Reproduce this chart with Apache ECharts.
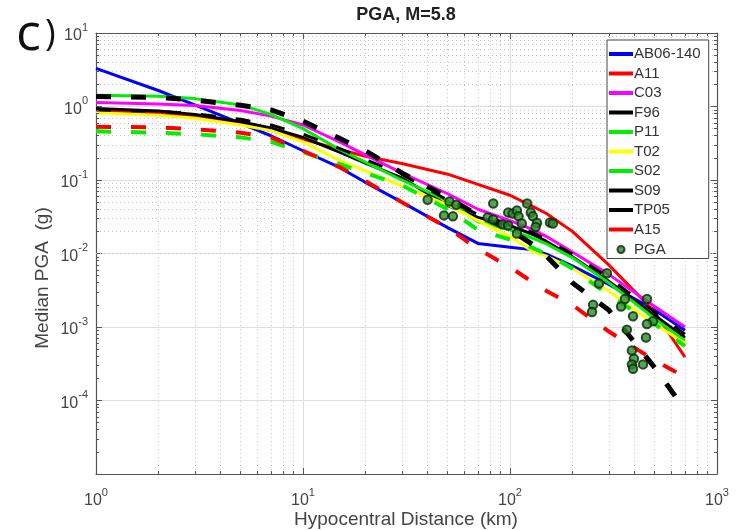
<!DOCTYPE html>
<html><head><meta charset="utf-8">
<script src="https://cdn.jsdelivr.net/npm/echarts@6/dist/echarts.min.js"></script>
<style>html,body{margin:0;padding:0;background:#fff}#c{width:742px;height:530px}</style>
</head><body><div id="c"></div>
<script>
// ---- data ----
const distKm = [1, 2, 3, 5, 7, 10, 15, 20, 30, 50, 70, 100, 130, 150, 200, 300, 500, 700];
const AB06 = [3.3, 1.65, 1.05, 0.59, 0.40, 0.25, 0.148, 0.093, 0.050, 0.0225, 0.0137, 0.0122, 0.0112, 0.0098, 0.0068, 0.0038, 0.0017, 0.0009];
const A11  = [0.86, 0.80, 0.72, 0.58, 0.47, 0.36, 0.26, 0.21, 0.168, 0.12, 0.087, 0.062, 0.043, 0.035, 0.020, 0.007, 0.0016, 0.00039];
const C03  = [1.13, 1.08, 1.03, 0.88, 0.74, 0.56, 0.33, 0.22, 0.125, 0.065, 0.040, 0.028, 0.021, 0.017, 0.0105, 0.0052, 0.0019, 0.0010];
const F96  = [0.94, 0.87, 0.78, 0.62, 0.51, 0.38, 0.24, 0.17, 0.107, 0.045, 0.031, 0.024, 0.018, 0.0146, 0.009, 0.0042, 0.00143, 0.00072];
const P11  = [1.42, 1.38, 1.28, 1.05, 0.78, 0.50, 0.26, 0.175, 0.10, 0.052, 0.027, 0.021, 0.016, 0.0135, 0.0088, 0.0040, 0.0013, 0.00065];
const T02  = [0.82, 0.76, 0.69, 0.56, 0.47, 0.33, 0.185, 0.133, 0.083, 0.046, 0.028, 0.017, 0.0105, 0.0092, 0.0063, 0.0031, 0.0011, 0.0006];
const S02  = [0.46, 0.44, 0.42, 0.38, 0.33, 0.24, 0.165, 0.125, 0.085, 0.040, 0.021, 0.0155, 0.0118, 0.0098, 0.0063, 0.0027, 0.0011, 0.00055];
const S09  = [0.90, 0.86, 0.80, 0.67, 0.56, 0.42, 0.27, 0.19, 0.12, 0.053, 0.034, 0.025, 0.019, 0.0155, 0.0098, 0.0047, 0.0016, 0.0008];
const TP05 = [1.37, 1.33, 1.22, 1.04, 0.90, 0.63, 0.37, 0.25, 0.125, 0.058, 0.033, 0.021, 0.013, 0.0092, 0.0040, 0.0017, 0.00028, 0.000075];
const A15  = [0.53, 0.52, 0.49, 0.44, 0.38, 0.25, 0.15, 0.097, 0.050, 0.0225, 0.0115, 0.0065, 0.0040, 0.0031, 0.0020, 0.00087, 0.00035, 0.00021];
const obsDist = [40, 51, 55, 48, 53, 83, 78, 83, 92, 98, 98, 103, 108, 110, 114, 108, 121, 126, 129, 135, 133, 156, 161,
                 294, 269, 252, 249, 359, 459, 344, 393, 491, 459, 367, 454, 388, 397, 388, 393, 439];
const obsPga  = [0.054, 0.051, 0.046, 0.033, 0.032, 0.048, 0.031, 0.029, 0.025, 0.024, 0.036, 0.035, 0.0385, 0.032, 0.0256, 0.0187, 0.048, 0.036, 0.032, 0.026, 0.023, 0.0264, 0.0256,
                 0.0054, 0.0039, 0.0020, 0.0016, 0.0024, 0.0024, 0.0019, 0.0014, 0.0012, 0.0011, 0.00092, 0.00072, 0.00048, 0.00037, 0.00031, 0.00027, 0.00031];
const legendNames = ['AB06-140', 'A11', 'C03', 'F96', 'P11', 'T02', 'S02', 'S09', 'TP05', 'A15', 'PGA'];
const xTickValues = [1, 10, 100, 1000];
const yTickValues = [1e-5, 1e-4, 1e-3, 1e-2, 1e-1, 1, 10];
const minorMult = [2, 3, 4, 5, 6, 7, 8, 9];
const titleText = 'PGA, M=5.8';
const xName = 'Hypocentral Distance (km)';
const yName = 'Median PGA  (g)';

// ---- build ----
const FONT = 'Liberation Sans';
const GRID = {left: 96, right: 25, top: 33, bottom: 56};
const gridW = 742 - GRID.left - GRID.right, gridH = 530 - GRID.top - GRID.bottom;
const xFac = Math.pow(10, 3 * 3 / gridW);   // ~3px minor tick along x
const yFac = Math.pow(10, 3 * 6 / gridH);   // ~3px minor tick along y

function expLabel(v) {
  const e = Math.round(Math.log10(v));
  return '{b|10}{s|' + e + '}';
}
const richLab = {
  b: {fontSize: 16, fontFamily: FONT, color: '#444', verticalAlign: 'bottom', lineHeight: 22},
  s: {fontSize: 11, fontFamily: FONT, color: '#444', verticalAlign: 'top', lineHeight: 12}
};

const minorX = [], minorY = [];
xTickValues.slice(0, -1).forEach(d => minorMult.forEach(m => minorX.push(d * m)));
yTickValues.slice(0, -1).forEach(d => minorMult.forEach(m => minorY.push(d * m)));
const gridLines = [];
minorX.forEach(v => gridLines.push({xAxis: v}));
minorY.forEach(v => gridLines.push({yAxis: v}));
const tickSegs = [];
minorX.forEach(v => {
  tickSegs.push([{coord: [v, 1e-5]}, {coord: [v, 1e-5 * yFac]}]);
  tickSegs.push([{coord: [v, 10]}, {coord: [v, 10 / yFac]}]);
});
minorY.forEach(v => {
  tickSegs.push([{coord: [1, v]}, {coord: [xFac, v]}]);
  tickSegs.push([{coord: [1000, v]}, {coord: [1000 / xFac, v]}]);
});

const colorOf = {};
function pairs(ys) { return distKm.map((d, i) => [d, ys[i]]); }
function curve(name, ys, color, width, dashed) {
  colorOf[name] = color;
  return {
    name, type: 'line', data: pairs(ys), symbol: 'none', z: 3,
    lineStyle: {color, width, type: dashed ? [15, 20] : 'solid', cap: 'butt'},
    itemStyle: {color, borderWidth: 0}, emphasis: {disabled: true}, animation: false
  };
}

const series = [
  {
    type: 'line', data: [], z: 1, silent: true, animation: false,
    markLine: {z: 1, silent: true, symbol: 'none', animation: false, label: {show: false},
      lineStyle: {type: [1, 3], color: '#c4c4c4', width: 1}, data: gridLines}
  },
  {
    type: 'line', data: [], z: 6, silent: true, animation: false,
    markLine: {z: 6, silent: true, symbol: 'none', animation: false, label: {show: false},
      lineStyle: {type: 'solid', color: '#555', width: 1}, data: tickSegs}
  },
  curve('AB06-140', AB06, '#0000ff', 3, false),
  curve('A11', A11, '#ff0000', 3, false),
  curve('C03', C03, '#ff00ff', 3, false),
  curve('F96', F96, '#000000', 3, false),
  curve('P11', P11, '#00ee00', 3, false),
  curve('T02', T02, '#ffff00', 3, false),
  curve('S02', S02, '#00ee00', 4, true),
  curve('S09', S09, '#000000', 3, true),
  curve('TP05', TP05, '#000000', 5, true),
  curve('A15', A15, '#ff0000', 4, true),
  {
    name: 'PGA', type: 'scatter', z: 4, animation: false,
    data: obsDist.map((d, i) => [d, obsPga[i]]),
    symbol: 'circle', symbolSize: 8.5,
    itemStyle: {color: '#2e8b2e', borderColor: '#062806', borderWidth: 2}
  }
];

const axisCommon = {
  type: 'log', logBase: 10, interval: 1,
  axisLine: {show: true, onZero: false, lineStyle: {color: '#555', width: 1.2}},
  axisTick: {show: true, inside: true, length: 6, lineStyle: {color: '#555', width: 1}},
  minorTick: {show: false}, minorSplitLine: {show: false}
};

const barIcon = 'path://M0,0M0,5H24V9H0ZM24,14';
const dotIcon = 'path://M0,0M12,3.5A3.5,3.5,0,1,1,11.99,3.5ZM24,14';

const option = {
  backgroundColor: '#ffffff',
  animation: false,
  textStyle: {fontFamily: FONT},
  grid: GRID,
  xAxis: [
    Object.assign({}, axisCommon, {
      min: 1, max: 1000, position: 'bottom',
      axisLabel: {margin: 13, formatter: expLabel, rich: richLab},
      splitLine: {show: true, lineStyle: {color: '#e0e0e0', width: 1}}
    }),
    Object.assign({}, axisCommon, {
      min: 1, max: 1000, position: 'top', axisLabel: {show: false}, splitLine: {show: false}
    })
  ],
  yAxis: [
    Object.assign({}, axisCommon, {
      min: 1e-5, max: 10, position: 'left',
      axisLabel: {margin: 8, formatter: v => (v < 1.5e-5 ? '' : expLabel(v)), rich: richLab},
      splitLine: {show: true, lineStyle: {color: '#e0e0e0', width: 1}}
    }),
    Object.assign({}, axisCommon, {
      min: 1e-5, max: 10, position: 'right', axisLabel: {show: false}, splitLine: {show: false}
    })
  ],
  legend: {
    show: true, orient: 'vertical', left: 607, top: 40, z: 8,
    data: legendNames.map(n => n === 'PGA'
      ? {name: n, icon: dotIcon}
      : {name: n, icon: barIcon,
         itemStyle: {color: colorOf[n], borderColor: colorOf[n], borderWidth: 0, borderType: 'solid', opacity: 1, decal: 'none'},
         lineStyle: {width: 0, type: 'solid'}}),
    itemWidth: 24, itemHeight: 14, itemGap: 4.5,
    padding: [6.5, 8, 1, 1],
    backgroundColor: '#ffffff', borderColor: '#444', borderWidth: 1,
    textStyle: {fontSize: 15, color: '#333', fontFamily: FONT, padding: [0, 0, 0, -4]},
    selectedMode: false
  },
  graphic: [
    {type: 'text', x: 406, y: 15, style: {text: titleText, font: 'bold 18px "Liberation Sans"', fill: '#222', align: 'center', verticalAlign: 'middle'}},
    {type: 'text', x: 406, y: 520, style: {text: xName, font: '19px "Liberation Sans"', fill: '#444', align: 'center', verticalAlign: 'middle'}},
    {type: 'text', x: 43, y: 278, rotation: Math.PI / 2, style: {text: yName, font: '19px "Liberation Sans"', fill: '#444', align: 'center', verticalAlign: 'middle'}},
    {type: 'text', x: 16, y: 35, style: {text: 'c', font: '52px "Open Sans"', fill: '#111', align: 'left', verticalAlign: 'middle'}},
    {type: 'text', x: 45, y: 35, style: {text: ')', font: '36px "Open Sans"', fill: '#111', align: 'left', verticalAlign: 'middle'}}
  ],
  series
};

const chart = echarts.init(document.getElementById('c'), null, {renderer: 'canvas'});
chart.setOption(option);
</script>
</body></html>
